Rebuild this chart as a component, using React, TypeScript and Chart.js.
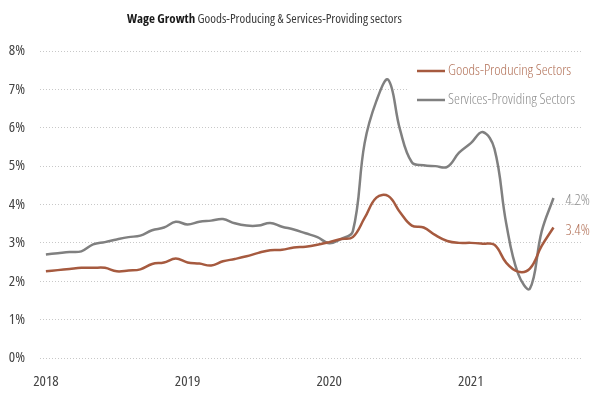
import React, { useEffect, useRef } from "react";
import { Chart, registerables } from "chart.js";

Chart.register(...registerables);

const yearLabels = ["2018", "2019", "2020", "2021"];
const yearTickIndex = [0, 12, 24, 36];

const goodsLabel = "Goods-Producing Sectors";
const servicesLabel = "Services-Providing Sectors";

// Monthly, Jan 2018 – Aug 2021 (%, y/y)
const goods = [
  2.26, 2.29, 2.32, 2.35, 2.35, 2.35, 2.26, 2.28, 2.31, 2.45, 2.49, 2.59,
  2.49, 2.46, 2.41, 2.52, 2.58, 2.65, 2.74, 2.81, 2.82, 2.88, 2.9, 2.95,
  3.02, 3.1, 3.15, 3.65, 4.18, 4.22, 3.8, 3.45, 3.4, 3.2, 3.05, 3.0,
  3.0, 2.98, 2.95, 2.48, 2.25, 2.33, 2.92, 3.4,
];
const services = [
  2.7, 2.73, 2.76, 2.78, 2.96, 3.02, 3.09, 3.15, 3.19, 3.33, 3.4, 3.55,
  3.48, 3.55, 3.58, 3.62, 3.51, 3.45, 3.45, 3.52, 3.42, 3.35, 3.25, 3.15,
  2.99, 3.1, 3.3, 5.6, 6.7, 7.25, 5.95, 5.1, 5.02, 5.0, 4.98, 5.35,
  5.6, 5.89, 5.45, 3.5, 2.2, 1.81, 3.3, 4.17,
];
const endLabels = ["3.4%", "4.2%"];

const FAMILY = "'Open Sans', sans-serif";
const BROWN = "#A65A3F";
const BROWN_TEXT = "#B3735A";
const GRAY = "#808080";
const GRAY_TEXT = "#8E8E8E";

const overlayPlugin = {
  id: "overlay",
  afterDatasetsDraw(chart: any) {
    const ctx = chart.ctx;
    ctx.save();
    // legend box
    ctx.fillStyle = "#ffffff";
    ctx.fillRect(408, 58, 182, 54);
    const items = [
      { label: goodsLabel, color: BROWN, text: BROWN_TEXT, y: 71 },
      { label: servicesLabel, color: GRAY, text: GRAY_TEXT, y: 100 },
    ];
    ctx.font = `300 condensed 15px ${FAMILY}`;
    ctx.textBaseline = "middle";
    ctx.textAlign = "left";
    items.forEach((it) => {
      ctx.strokeStyle = it.color;
      ctx.lineWidth = 2.5;
      ctx.beginPath();
      ctx.moveTo(417, it.y);
      ctx.lineTo(445, it.y);
      ctx.stroke();
      ctx.fillStyle = it.text;
      ctx.fillText(it.label, 448, it.y);
    });
    // end labels
    const colors = [BROWN_TEXT, GRAY_TEXT];
    chart.data.datasets.forEach((ds: any, i: number) => {
      const meta = chart.getDatasetMeta(i);
      const last = meta.data[meta.data.length - 1];
      ctx.fillStyle = colors[i];
      ctx.fillText(endLabels[i], last.x + 12, last.y + 3);
    });
    // title
    ctx.textBaseline = "middle";
    ctx.fillStyle = "#1a1a1a";
    ctx.font = `bold condensed 13px ${FAMILY}`;
    const bold = "Wage Growth";
    ctx.fillText(bold, 127, 19);
    const w = ctx.measureText(bold + " ").width;
    ctx.font = `condensed 13px ${FAMILY}`;
    ctx.fillStyle = "#3a3a3a";
    ctx.fillText("Goods-Producing & Services-Providing sectors", 127 + w, 19);
    ctx.restore();
  },
};

export default function App() {
  const ref = useRef<HTMLCanvasElement>(null);
  useEffect(() => {
    document.body.style.margin = "0";
    const chart = new Chart(ref.current!, {
      type: "line",
      data: {
        datasets: [
          {
            label: goodsLabel,
            data: goods.map((v, i) => ({ x: i, y: v })),
            borderColor: BROWN,
            borderWidth: 2.5,
            pointRadius: 0,
            tension: 0.4,
          },
          {
            label: servicesLabel,
            data: services.map((v, i) => ({ x: i, y: v })),
            borderColor: GRAY,
            borderWidth: 2.5,
            pointRadius: 0,
            tension: 0.4,
          },
        ],
      },
      options: {
        responsive: false,
        animation: false,
        layout: { padding: { left: 0, right: 17, top: 51, bottom: 0 } },
        plugins: { legend: { display: false }, tooltip: { enabled: false }, title: { display: false } },
        scales: {
          x: {
            type: "linear",
            min: -0.5,
            max: 45.5,
            grid: { display: false, drawTicks: false },
            border: { display: false },
            afterBuildTicks: (scale: any) => {
              scale.ticks = yearTickIndex.map((v) => ({ value: v }));
            },
            afterFit: (scale: any) => {
              scale.height = 41;
            },
            ticks: {
              autoSkip: false,
              maxRotation: 0,
              padding: 15,
              color: "#444",
              font: { family: FAMILY, size: 15, weight: "condensed" },
              callback: (v: any) => {
                const k = yearTickIndex.indexOf(Number(v));
                return k >= 0 ? yearLabels[k] : "";
              },
            },
          },
          y: {
            min: 0,
            max: 8,
            grid: { color: "#c8c8c8", drawTicks: false, lineWidth: 1 },
            border: { display: false, dash: [1, 2] },
            afterFit: (scale: any) => {
              scale.width = 40;
            },
            ticks: {
              stepSize: 1,
              padding: 15,
              color: "#444",
              font: { family: FAMILY, size: 15, weight: "condensed" },
              callback: (v: any) => v + "%",
            },
          },
        },
      },
      plugins: [overlayPlugin],
    } as any);
    return () => chart.destroy();
  }, []);
  return (
    <div style={{ position: "absolute", left: 0, top: 0, width: 600, height: 399 }}>
      <canvas ref={ref} width={600} height={399} />
    </div>
  );
}
